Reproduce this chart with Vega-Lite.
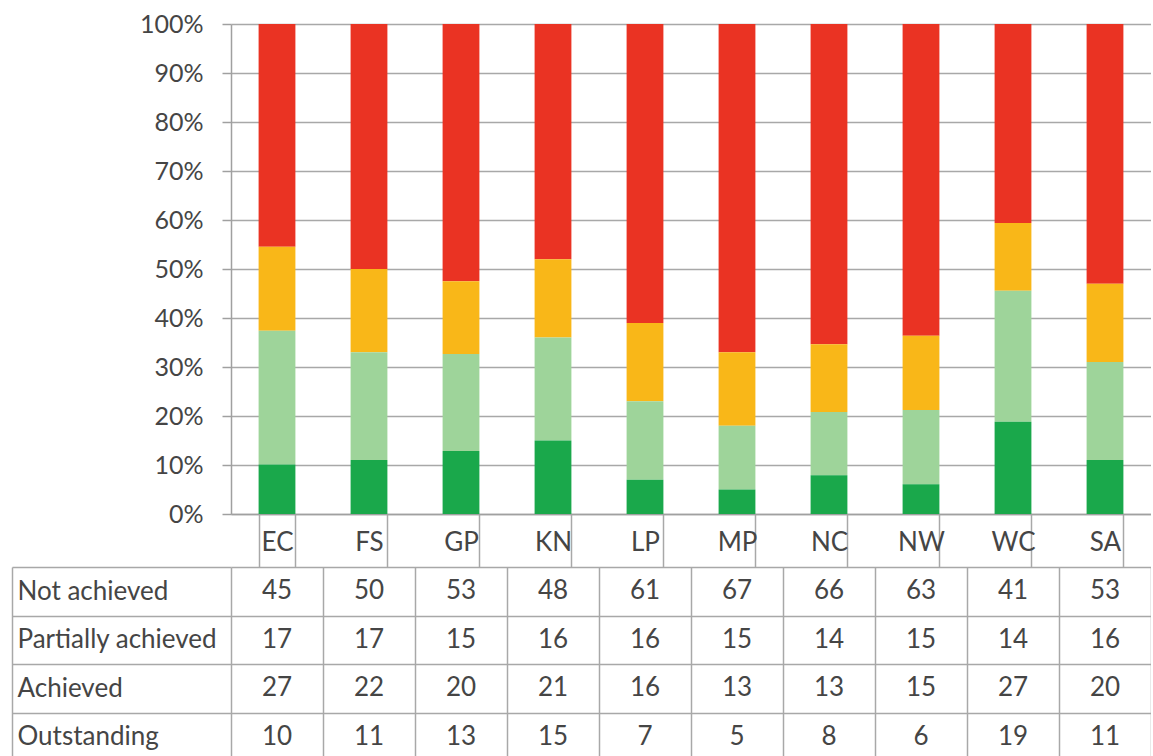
{
  "$schema": "https://vega.github.io/schema/vega-lite/v6.json",
  "padding": {"left": 11, "top": 12, "right": 0, "bottom": 0},
  "spacing": 53,
  "bounds": "flush",
  "data": {
    "values": [
      {"region": "EC", "status": "Not achieved", "value": 45},
      {"region": "EC", "status": "Partially achieved", "value": 17},
      {"region": "EC", "status": "Achieved", "value": 27},
      {"region": "EC", "status": "Outstanding", "value": 10},
      {"region": "FS", "status": "Not achieved", "value": 50},
      {"region": "FS", "status": "Partially achieved", "value": 17},
      {"region": "FS", "status": "Achieved", "value": 22},
      {"region": "FS", "status": "Outstanding", "value": 11},
      {"region": "GP", "status": "Not achieved", "value": 53},
      {"region": "GP", "status": "Partially achieved", "value": 15},
      {"region": "GP", "status": "Achieved", "value": 20},
      {"region": "GP", "status": "Outstanding", "value": 13},
      {"region": "KN", "status": "Not achieved", "value": 48},
      {"region": "KN", "status": "Partially achieved", "value": 16},
      {"region": "KN", "status": "Achieved", "value": 21},
      {"region": "KN", "status": "Outstanding", "value": 15},
      {"region": "LP", "status": "Not achieved", "value": 61},
      {"region": "LP", "status": "Partially achieved", "value": 16},
      {"region": "LP", "status": "Achieved", "value": 16},
      {"region": "LP", "status": "Outstanding", "value": 7},
      {"region": "MP", "status": "Not achieved", "value": 67},
      {"region": "MP", "status": "Partially achieved", "value": 15},
      {"region": "MP", "status": "Achieved", "value": 13},
      {"region": "MP", "status": "Outstanding", "value": 5},
      {"region": "NC", "status": "Not achieved", "value": 66},
      {"region": "NC", "status": "Partially achieved", "value": 14},
      {"region": "NC", "status": "Achieved", "value": 13},
      {"region": "NC", "status": "Outstanding", "value": 8},
      {"region": "NW", "status": "Not achieved", "value": 63},
      {"region": "NW", "status": "Partially achieved", "value": 15},
      {"region": "NW", "status": "Achieved", "value": 15},
      {"region": "NW", "status": "Outstanding", "value": 6},
      {"region": "WC", "status": "Not achieved", "value": 41},
      {"region": "WC", "status": "Partially achieved", "value": 14},
      {"region": "WC", "status": "Achieved", "value": 27},
      {"region": "WC", "status": "Outstanding", "value": 19},
      {"region": "SA", "status": "Not achieved", "value": 53},
      {"region": "SA", "status": "Partially achieved", "value": 16},
      {"region": "SA", "status": "Achieved", "value": 20},
      {"region": "SA", "status": "Outstanding", "value": 11}
    ]
  },
  "vconcat": [
    {
      "width": 920,
      "height": 490,
      "transform": [
        {"calculate": "indexof(['Outstanding', 'Achieved', 'Partially achieved', 'Not achieved'], datum.status)", "as": "stackOrder"}
      ],
      "mark": {"type": "bar"},
      "encoding": {
        "x": {
          "field": "region",
          "type": "nominal",
          "sort": ["EC", "FS", "GP", "KN", "LP", "MP", "NC", "NW", "WC", "SA"],
          "scale": {"type": "band", "paddingInner": 0.6, "paddingOuter": 0.3},
          "axis": {
            "title": null,
            "orient": "bottom",
            "labelAngle": 0,
            "tickBand": "extent",
            "tickSize": 53,
            "tickWidth": 1.5,
            "tickColor": "#a8a8a8",
            "domainColor": "#a0a0a0",
            "domainWidth": 1.5,
            "labelBaseline": "middle",
            "labelPadding": -25,
            "labelFontSize": 26,
            "labelColor": "#454545",
            "labelFont": "Lato"
          }
        },
        "y": {
          "field": "value",
          "type": "quantitative",
          "stack": "normalize",
          "scale": {"domain": [0, 1]},
          "axis": {
            "title": null,
            "format": "%",
            "values": [0, 0.1, 0.2, 0.3, 0.4, 0.5, 0.6, 0.7, 0.8, 0.9, 1],
            "grid": true,
            "gridColor": "#a8a8a8",
            "gridWidth": 1.5,
            "tickSize": 9,
            "tickWidth": 1.5,
            "tickColor": "#a0a0a0",
            "domainColor": "#a0a0a0",
            "domainWidth": 1.5,
            "labelPadding": 19,
            "labelFontSize": 25,
            "labelColor": "#454545",
            "labelFont": "Lato"
          }
        },
        "order": {"field": "stackOrder", "type": "quantitative", "sort": "ascending"},
        "color": {
          "field": "status",
          "type": "nominal",
          "scale": {
            "domain": ["Outstanding", "Achieved", "Partially achieved", "Not achieved"],
            "range": ["#1aa84b", "#9ed49a", "#f9b718", "#ea3323"]
          },
          "legend": null
        }
      }
    },
    {
      "width": 920,
      "height": 194,
      "mark": {"type": "text", "fontSize": 26, "font": "Lato", "color": "#454545"},
      "encoding": {
        "x": {
          "field": "region",
          "type": "nominal",
          "sort": ["EC", "FS", "GP", "KN", "LP", "MP", "NC", "NW", "WC", "SA"],
          "scale": {"type": "band", "paddingInner": 0, "paddingOuter": 0},
          "axis": {
            "title": null,
            "orient": "top",
            "labels": false,
            "ticks": false,
            "domain": false,
            "grid": true,
            "tickBand": "extent",
            "gridColor": "#a8a8a8",
            "gridWidth": 1.5
          }
        },
        "y": {
          "field": "status",
          "type": "nominal",
          "sort": ["Not achieved", "Partially achieved", "Achieved", "Outstanding"],
          "scale": {"type": "band", "paddingInner": 0, "paddingOuter": 0},
          "axis": {
            "title": null,
            "orient": "left",
            "offset": 219,
            "tickSize": -219,
            "tickBand": "extent",
            "tickColor": "#a8a8a8",
            "tickWidth": 1.5,
            "grid": true,
            "gridColor": "#a8a8a8",
            "gridWidth": 1.5,
            "domainColor": "#a8a8a8",
            "domainWidth": 1.5,
            "labelAlign": "left",
            "labelPadding": 214,
            "labelLimit": 0,
            "labelFontSize": 26,
            "labelColor": "#454545",
            "labelFont": "Lato"
          }
        },
        "text": {"field": "value", "type": "quantitative"}
      }
    }
  ],
  "config": {
    "view": {"stroke": null},
    "font": "Lato"
  }
}
